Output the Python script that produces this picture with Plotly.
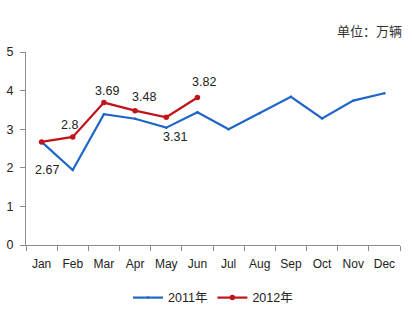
import plotly.graph_objects as go

months = ["Jan", "Feb", "Mar", "Apr", "May", "Jun", "Jul", "Aug", "Sep", "Oct", "Nov", "Dec"]
s2011 = [2.67, 1.94, 3.39, 3.27, 3.04, 3.44, 3.0, 3.41, 3.84, 3.28, 3.74, 3.93]
s2012 = [2.67, 2.8, 3.69, 3.48, 3.31, 3.82]
name2011 = "2011年"
name2012 = "2012年"
unit_label = "单位：万辆"
yticks = [0, 1, 2, 3, 4, 5]

BLUE = "#1f66c6"
RED = "#c0141a"
FONT = "Liberation Sans, Noto Sans CJK SC, sans-serif"

fig = go.Figure()
fig.add_trace(go.Scatter(x=months, y=s2011, mode="lines+markers", name=name2011,
                         line=dict(color=BLUE, width=2.2), marker=dict(size=2.5, color=BLUE)))
fig.add_trace(go.Scatter(x=months[:len(s2012)], y=s2012, mode="lines+markers", name=name2012,
                         line=dict(color=RED, width=2.2), marker=dict(size=5.5, color=RED)))

# data label offsets (px) for 2012 values
offsets = [(5, -28), (-3, 12), (3, 12), (9, 14), (9, -20), (7, 16)]
for m, v, (dx, dy) in zip(months, s2012, offsets):
    fig.add_annotation(x=m, y=v, text=f"{v:g}", showarrow=False, xshift=dx, yshift=dy,
                       font=dict(size=12.5, color="#222", family=FONT))

fig.add_annotation(xref="paper", yref="paper", x=1.01, y=1.11, xanchor="right", yanchor="middle",
                   text=unit_label, showarrow=False,
                   font=dict(size=13, color="#333", family="Noto Sans CJK SC"))

fig.update_layout(
    width=412, height=318,
    margin=dict(l=26, r=12, t=52, b=73, autoexpand=False),
    paper_bgcolor="white", plot_bgcolor="white",
    font=dict(family=FONT, size=12, color="#222"),
    showlegend=True,
    legend=dict(orientation="h", x=0.5, xanchor="center", y=0.063, yanchor="middle",
                yref="container",
                font=dict(size=12.5, color="#222", family=FONT), itemwidth=30,
                traceorder="normal"),
    xaxis=dict(type="category", range=[-0.5, 11.5], showgrid=False, showline=True,
               linecolor="#8c8c8c", linewidth=1, ticks="outside", tickson="boundaries",
               ticklen=5, tickcolor="#8c8c8c", tickfont=dict(size=12), tickangle=0,
               ticklabelstandoff=8, automargin=False, fixedrange=True),
    yaxis=dict(range=[0, 5], tickvals=yticks, showgrid=False, showline=True,
               linecolor="#8c8c8c", linewidth=1, ticks="outside", ticklen=5,
               tickcolor="#8c8c8c", tickfont=dict(size=12.5), zeroline=False,
               ticklabelstandoff=4, automargin=False, fixedrange=True),
)

fig.write_html("out.html")
